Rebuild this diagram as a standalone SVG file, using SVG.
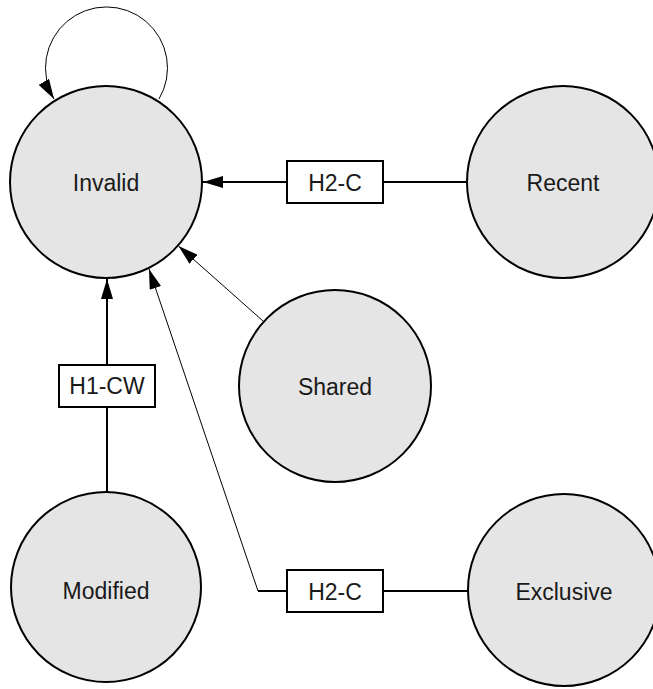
<svg xmlns="http://www.w3.org/2000/svg" width="653" height="689" viewBox="0 0 653 689">
<defs>
<style>
.node circle{fill:#e5e5e5;stroke:#000;stroke-width:2}
.lbl{font-family:"Liberation Sans",Arial,sans-serif;font-size:23px;fill:#1a1a1a;text-anchor:middle}
.box rect{fill:#fff;stroke:#000;stroke-width:2}
.thick{fill:none;stroke:#000;stroke-width:2}
.thin{fill:none;stroke:#000;stroke-width:1}
</style>
<marker id="arr" markerUnits="userSpaceOnUse" markerWidth="20" markerHeight="12" viewBox="0 0 20 12" refX="20" refY="6" orient="auto">
<path d="M0,0 L20,6 L0,12 Z" fill="#000"/>
</marker>
</defs>
<g id="connectors">
<path class="thin" d="M159,99 A61,61 0 1 0 54,99" marker-end="url(#arr)"/>
<line class="thick" x1="467" y1="182" x2="383" y2="182"/>
<line class="thick" x1="287" y1="182" x2="203" y2="182" marker-end="url(#arr)"/>
<line class="thin" x1="263" y1="321" x2="178.5" y2="246" marker-end="url(#arr)"/>
<line class="thick" x1="107" y1="492" x2="107" y2="407"/>
<line class="thick" x1="107" y1="365" x2="107" y2="279" marker-end="url(#arr)"/>
<line class="thick" x1="468" y1="591" x2="383" y2="591"/>
<polyline class="thick" points="287,591 258,591"/>
<line class="thin" x1="258" y1="591" x2="149" y2="269" marker-end="url(#arr)"/>
<g class="box" id="label-h2c-top"><rect x="287" y="161" width="96" height="42"/><text class="lbl" x="335" y="191">H2-C</text></g>
<g class="box" id="label-h1cw"><rect x="59" y="365" width="96" height="42"/><text class="lbl" x="107" y="394">H1-CW</text></g>
<g class="box" id="label-h2c-bottom"><rect x="287" y="570" width="96" height="42"/><text class="lbl" x="335" y="600">H2-C</text></g>
</g>
<g id="invalid" class="node"><circle cx="106" cy="182" r="96"/><text class="lbl" x="106" y="191">Invalid</text></g>
<g id="recent" class="node"><circle cx="563" cy="182" r="96"/><text class="lbl" x="563" y="191">Recent</text></g>
<g id="shared" class="node"><circle cx="335" cy="386" r="96"/><text class="lbl" x="335" y="395">Shared</text></g>
<g id="modified" class="node"><circle cx="106" cy="587" r="95"/><text class="lbl" x="106" y="599">Modified</text></g>
<g id="exclusive" class="node"><circle cx="564" cy="590" r="96"/><text class="lbl" x="564" y="600">Exclusive</text></g>
</svg>
